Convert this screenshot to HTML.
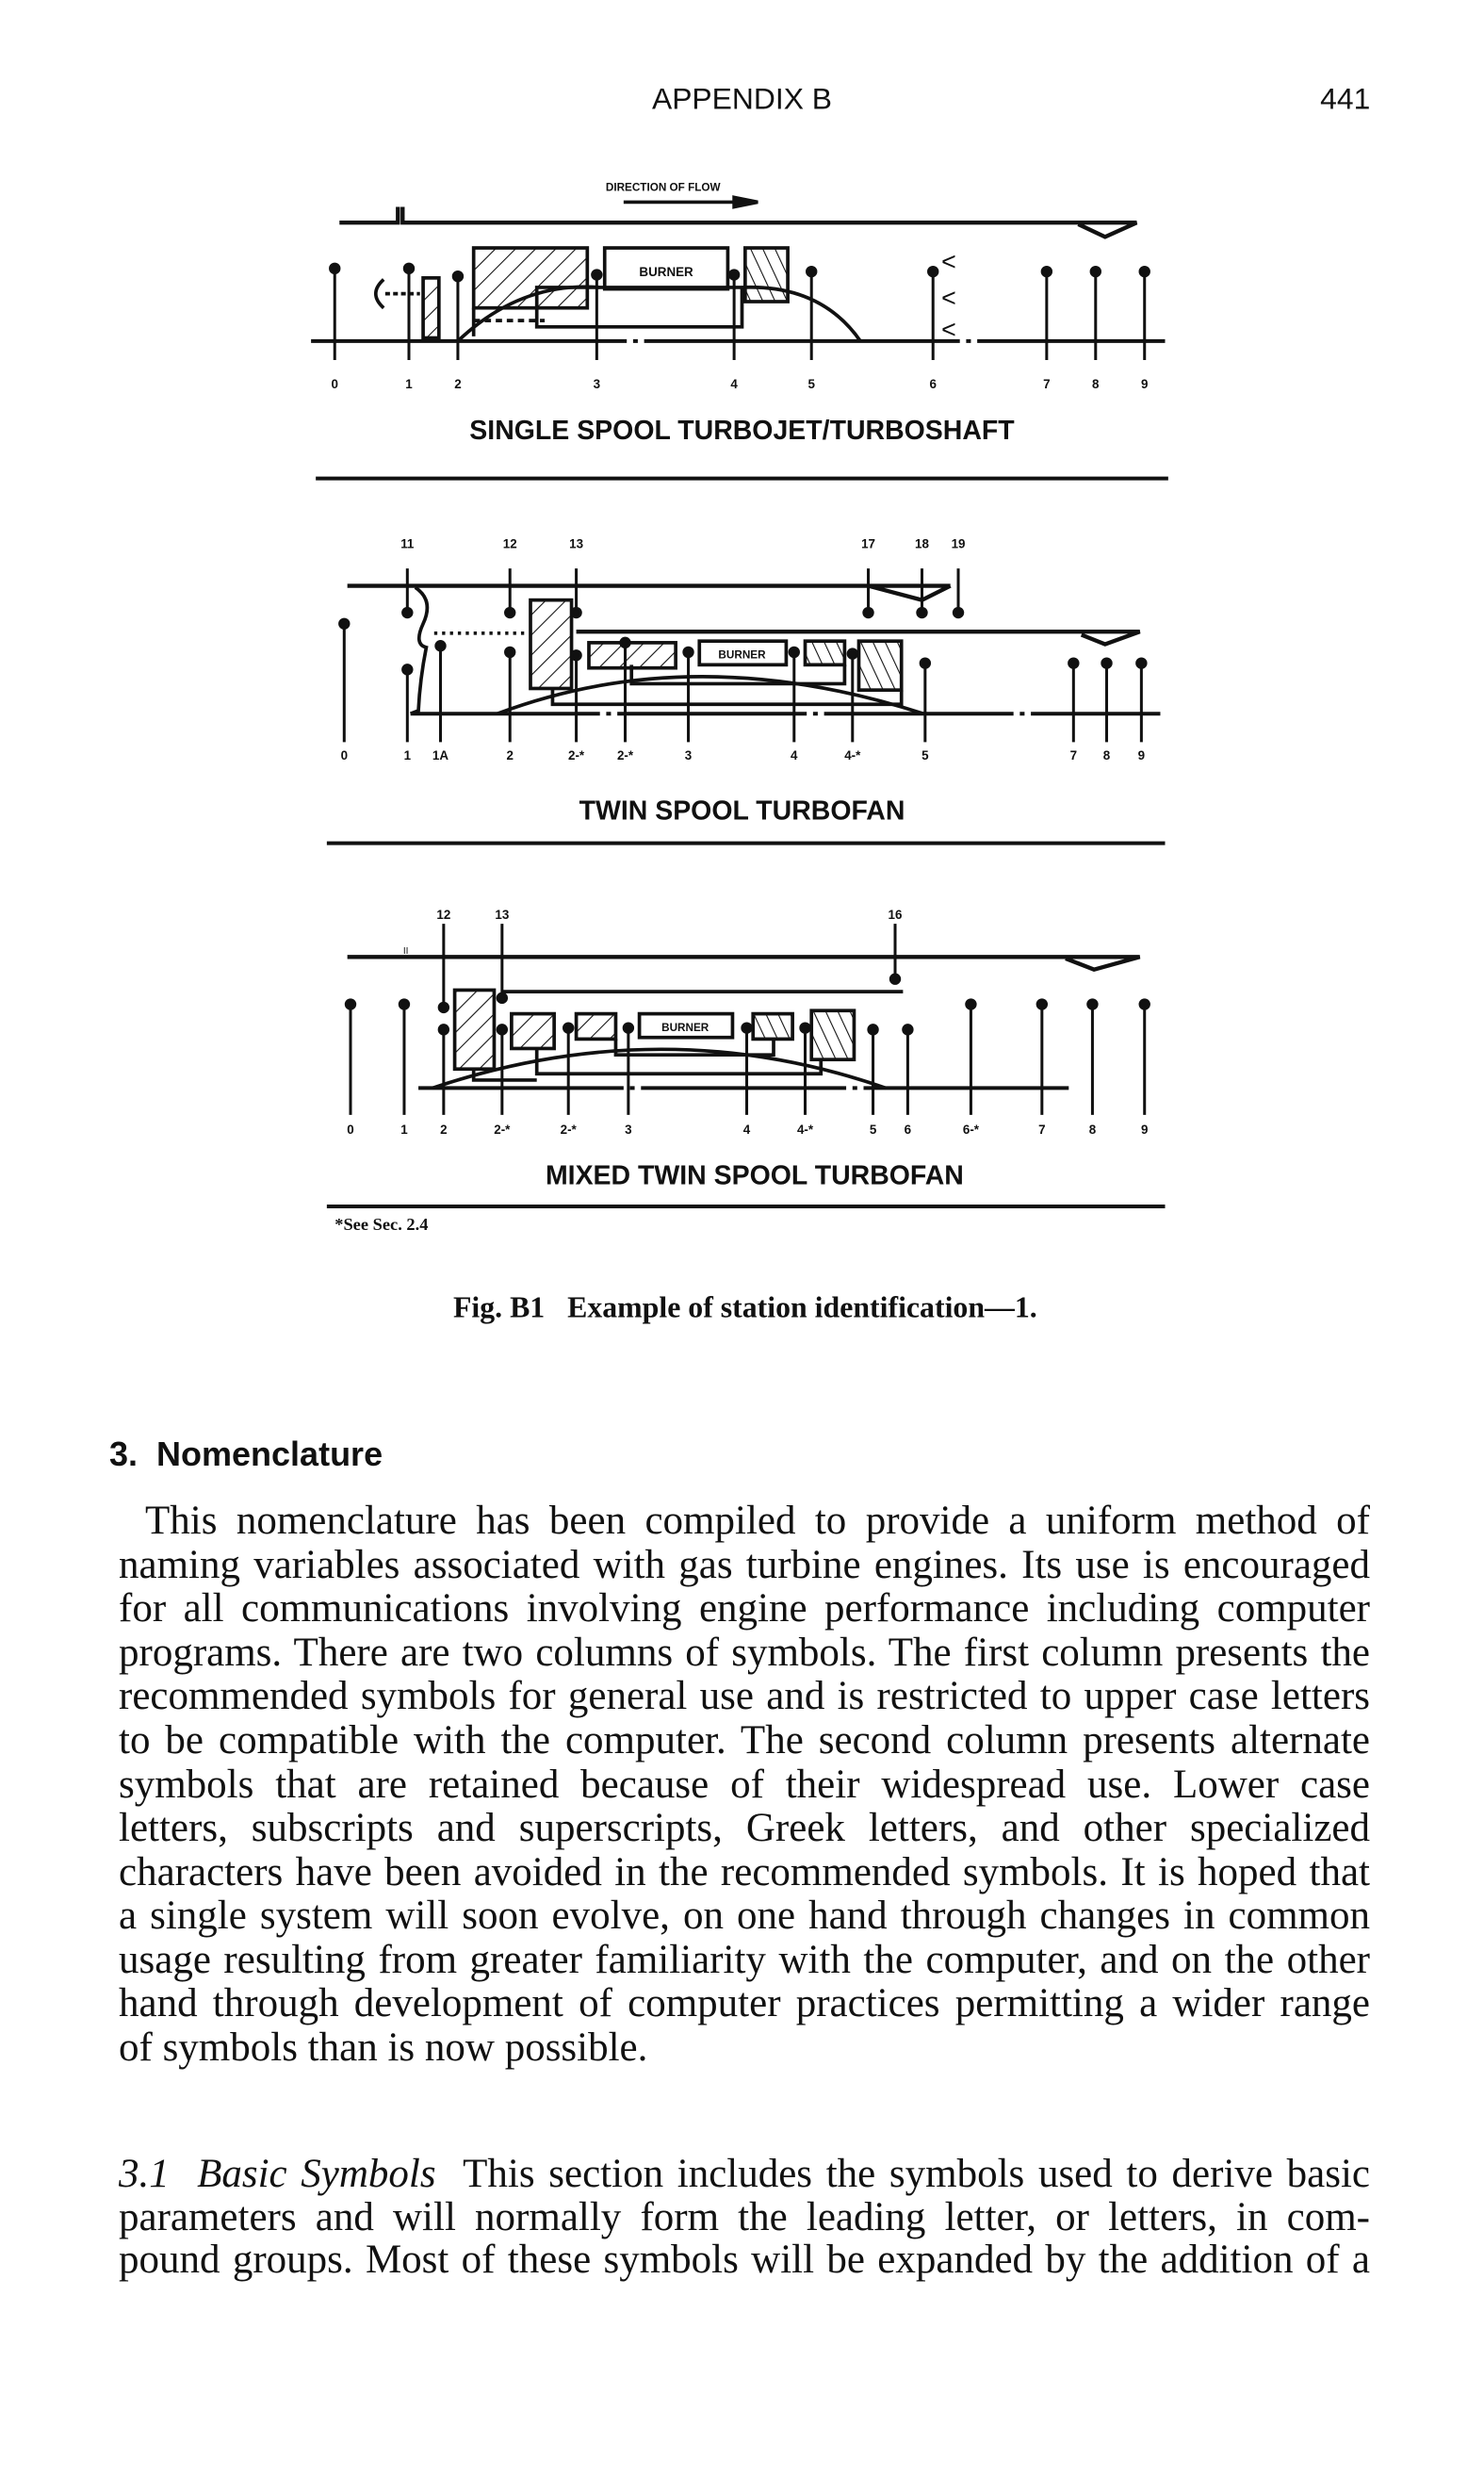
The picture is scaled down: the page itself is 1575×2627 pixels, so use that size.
<!DOCTYPE html>
<html><head><meta charset="utf-8">
<style>
html,body{margin:0;padding:0;background:#fff;}
body{width:1575px;height:2627px;position:relative;overflow:hidden;font-family:"Liberation Serif",serif;color:#111;}
#fig{position:absolute;left:0;top:0;width:1575px;height:2627px;}
.ln{position:absolute;left:126px;width:1328px;height:47px;line-height:47px;font-size:43px;white-space:nowrap;text-align:justify;text-align-last:justify;}
.h{position:absolute;left:116px;top:1522px;font-family:"Liberation Sans",sans-serif;font-weight:bold;font-size:36px;}
</style></head><body>
<svg id="fig" viewBox="0 0 940 1568" xmlns="http://www.w3.org/2000/svg" font-family="Liberation Sans, sans-serif" fill="none" stroke="#111">
<defs>
<pattern id="hf" width="9" height="9" patternUnits="userSpaceOnUse" patternTransform="rotate(45)"><line x1="0" y1="0" x2="0" y2="9" stroke="#111" stroke-width="1.3"/></pattern>
<pattern id="hb" width="7" height="7" patternUnits="userSpaceOnUse" patternTransform="rotate(-25)"><line x1="0" y1="0" x2="0" y2="7" stroke="#111" stroke-width="1.3"/></pattern>
</defs>
<text x="470" y="69" text-anchor="middle" font-size="19" fill="#111" stroke="none">APPENDIX B</text>
<text x="868" y="69" text-anchor="end" font-size="19" fill="#111" stroke="none">441</text>

<g stroke-width="2.2">
<text x="420" y="121" text-anchor="middle" font-size="7" font-weight="bold" fill="#111" stroke="none">DIRECTION OF FLOW</text>
<line x1="395" y1="128" x2="470" y2="128"/><path d="M465 125 L480 128 L465 131 Z" fill="#111"/>
<path d="M215 141 L252 141 L252 131 M255 131 L255 141 L690 141 L720 141 L700 150 L683 142" stroke-width="2.6"/>
<line x1="197" y1="216" x2="738" y2="216" stroke-width="2.4" stroke-dasharray="200 4 3 4"/>
<rect x="300" y="157" width="72" height="38" fill="url(#hf)"/>
<path d="M300 195 L300 213"/>
<rect x="383" y="157" width="78" height="26"/>
<text x="422" y="175" text-anchor="middle" font-size="8" font-weight="bold" fill="#111" stroke="none">BURNER</text>
<rect x="472" y="157" width="27" height="34" fill="url(#hb)"/>
<path d="M340 207 L470 207 L470 182 L340 182 Z"/>
<path d="M290 216 Q330 178 380 182 M470 182 Q520 180 545 216"/>
<path d="M300 203 L345 203" stroke-dasharray="4 3"/>
<rect x="268" y="176" width="10" height="38" fill="url(#hf)"/>
<path d="M244 186 L266 186" stroke-dasharray="3 2"/>
<path d="M243 177 Q233 186 243 195"/>
<text x="601" y="171" text-anchor="middle" font-size="16" fill="#111" stroke="none">&lt;</text>
<text x="601" y="194" text-anchor="middle" font-size="16" fill="#111" stroke="none">&lt;</text>
<text x="601" y="214" text-anchor="middle" font-size="16" fill="#111" stroke="none">&lt;</text>
<text x="470" y="278" text-anchor="middle" font-size="17" font-weight="bold" fill="#111" stroke="none">SINGLE  SPOOL TURBOJET/TURBOSHAFT</text>
<line x1="200" y1="303" x2="740" y2="303" stroke-width="2.4"/>
</g>

<g stroke-width="2.2">
<path d="M220 371 L602 371 M550 371 L584 380 L602 371" stroke-width="2.6"/>
<path d="M365 400 L722 400 L700 408 L685 402" stroke-width="2.6"/>
<path d="M275 401 L335 401" stroke-dasharray="2 3"/>
<path d="M263 372 Q275 380 268 395 Q262 408 270 410 Q266 430 265 450 L260 452"/>
<line x1="260" y1="452" x2="735" y2="452" stroke-width="2.4" stroke-dasharray="120 4 3 4"/>
<rect x="336" y="380" width="26" height="56" fill="url(#hf)"/>
<rect x="373" y="407" width="55" height="16" fill="url(#hf)"/>
<rect x="443" y="406" width="55" height="15"/>
<text x="470" y="417" text-anchor="middle" font-size="7" font-weight="bold" fill="#111" stroke="none">BURNER</text>
<rect x="510" y="406" width="25" height="15" fill="url(#hb)"/>
<rect x="544" y="406" width="27" height="31" fill="url(#hb)"/>
<path d="M400 421 L400 433 L535 433 L535 421 M350 436 L350 446 L571 446 L571 437"/>
<path d="M315 452 Q440 405 585 452"/>
<text x="470" y="519" text-anchor="middle" font-size="17" font-weight="bold" fill="#111" stroke="none">TWIN SPOOL TURBOFAN</text>
<line x1="207" y1="534" x2="738" y2="534" stroke-width="2.4"/>
</g>

<g stroke-width="2.2">
<path d="M220 606 L722 606 L693 614 L675 607" stroke-width="2.6"/>
<text x="257" y="604" text-anchor="middle" font-size="6" fill="#111" stroke="none">II</text>
<line x1="318" y1="628" x2="572" y2="628"/>
<line x1="265" y1="689" x2="680" y2="689" stroke-width="2.4" stroke-dasharray="130 4 3 4"/>
<rect x="288" y="627" width="25" height="50" fill="url(#hf)"/>
<rect x="324" y="642" width="27" height="22" fill="url(#hf)"/>
<rect x="365" y="642" width="25" height="16" fill="url(#hf)"/>
<rect x="405" y="642" width="59" height="15"/>
<text x="434" y="653" text-anchor="middle" font-size="7" font-weight="bold" fill="#111" stroke="none">BURNER</text>
<rect x="477" y="642" width="25" height="16" fill="url(#hb)"/>
<rect x="514" y="640" width="27" height="31" fill="url(#hb)"/>
<path d="M390 658 L390 668 L490 668 L490 658 M340 664 L340 680 L520 680 L520 671 M300 677 L300 684 L340 684"/>
<path d="M274 689 Q420 640 561 689"/>
<text x="478" y="750" text-anchor="middle" font-size="17" font-weight="bold" fill="#111" stroke="none">MIXED TWIN SPOOL TURBOFAN</text>
<line x1="207" y1="764" x2="738" y2="764" stroke-width="2.4"/>
</g>
<g id="stations" stroke-width="1.8"></g>
<text x="212" y="779" font-family="Liberation Serif, serif" font-size="11" font-weight="bold" fill="#111" stroke="none">*See Sec. 2.4</text>
<text x="472" y="834" text-anchor="middle" font-family="Liberation Serif, serif" font-size="19" font-weight="bold" fill="#111" stroke="none" xml:space="preserve">Fig. B1   Example of station identification—1.</text>
</svg>

<div class="h">3.&nbsp;&nbsp;Nomenclature</div>
<div>
<div class="ln" style="top:1590px;left:154px;width:1300px">This nomenclature has been compiled to provide a uniform method of</div>
<div class="ln" style="top:1637px">naming variables associated with gas turbine engines. Its use is encouraged</div>
<div class="ln" style="top:1683px">for all communications involving engine performance including computer</div>
<div class="ln" style="top:1730px">programs. There are two columns of symbols. The first column presents the</div>
<div class="ln" style="top:1776px">recommended symbols for general use and is restricted to upper case letters</div>
<div class="ln" style="top:1823px">to be compatible with the computer. The second column presents alternate</div>
<div class="ln" style="top:1870px">symbols that are retained because of their widespread use. Lower case</div>
<div class="ln" style="top:1916px">letters, subscripts and superscripts, Greek letters, and other specialized</div>
<div class="ln" style="top:1963px">characters have been avoided in the recommended symbols. It is hoped that</div>
<div class="ln" style="top:2009px">a single system will soon evolve, on one hand through changes in common</div>
<div class="ln" style="top:2056px">usage resulting from greater familiarity with the computer, and on the other</div>
<div class="ln" style="top:2102px">hand through development of computer practices permitting a wider range</div>
<div class="ln" style="top:2149px;text-align-last:left">of symbols than is now possible.</div>
</div>
<div>
<div class="ln" style="top:2283px"><i>3.1&nbsp; Basic Symbols</i>&nbsp; This section includes the symbols used to derive basic</div>
<div class="ln" style="top:2329px">parameters and will normally form the leading letter, or letters, in com-</div>
<div class="ln" style="top:2374px">pound groups. Most of these symbols will be expanded by the addition of a</div>
</div>

<script>
// station data: [label, x, dotY, bottomY, labelY]
const singleStations=[["0",212,170,228,246],["1",259,170,228,246],["2",290,175,228,246],["3",378,174,228,246],["4",465,174,228,246],["5",514,172,228,246],["6",591,172,228,246],["7",663,172,228,246],["8",694,172,228,246],["9",725,172,228,246]];
const twinLower=[["0",218,395,470,481],["1",258,424,470,481],["1A",279,409,470,481],["2",323,413,470,481],["2-*",365,415,470,481],["2-*",396,407,470,481],["3",436,413,470,481],["4",503,413,470,481],["4-*",540,414,470,481],["5",586,420,470,481],["7",680,420,470,481],["8",701,420,470,481],["9",723,420,470,481]];
const twinUpper=[["11",258,388,360,347],["12",323,388,360,347],["13",365,388,360,347],["17",550,388,360,347],["18",584,388,360,347],["19",607,388,360,347]];
const mixedLower=[["0",222,636,706,718],["1",256,636,706,718],["2",281,652,706,718],["2-*",318,652,706,718],["2-*",360,651,706,718],["3",398,651,706,718],["4",473,651,706,718],["4-*",510,651,706,718],["5",553,652,706,718],["6",575,652,706,718],["6-*",615,636,706,718],["7",660,636,706,718],["8",692,636,706,718],["9",725,636,706,718]];
const mixedUpper=[["12",281,638,585,582],["13",318,632,585,582],["16",567,620,585,582]];
const NS="http://www.w3.org/2000/svg";
const g=document.getElementById('stations');
function draw(arr){
  arr.forEach(s=>{
    const l=document.createElementNS(NS,'line');
    
    
    l.setAttribute('x1',s[1]);l.setAttribute('x2',s[1]);
    l.setAttribute('y1',s[2]);l.setAttribute('y2',s[3]);
    g.appendChild(l);
    const c=document.createElementNS(NS,'circle');
    
    
    c.setAttribute('cx',s[1]);c.setAttribute('cy',s[2]);c.setAttribute('r',2.8);
    c.setAttribute('fill','#111');
    g.appendChild(c);
    const t=document.createElementNS(NS,'text');
    
    
    t.setAttribute('x',s[1]);t.setAttribute('y',s[4]);
    t.setAttribute('text-anchor','middle');t.setAttribute('font-size','8');
    t.setAttribute('font-weight','bold');t.setAttribute('fill','#111');t.setAttribute('stroke','none');
    t.textContent=s[0];
    g.appendChild(t);
  });
}
draw(singleStations);draw(twinLower);draw(twinUpper);draw(mixedLower);draw(mixedUpper);
</script>
</body></html>
